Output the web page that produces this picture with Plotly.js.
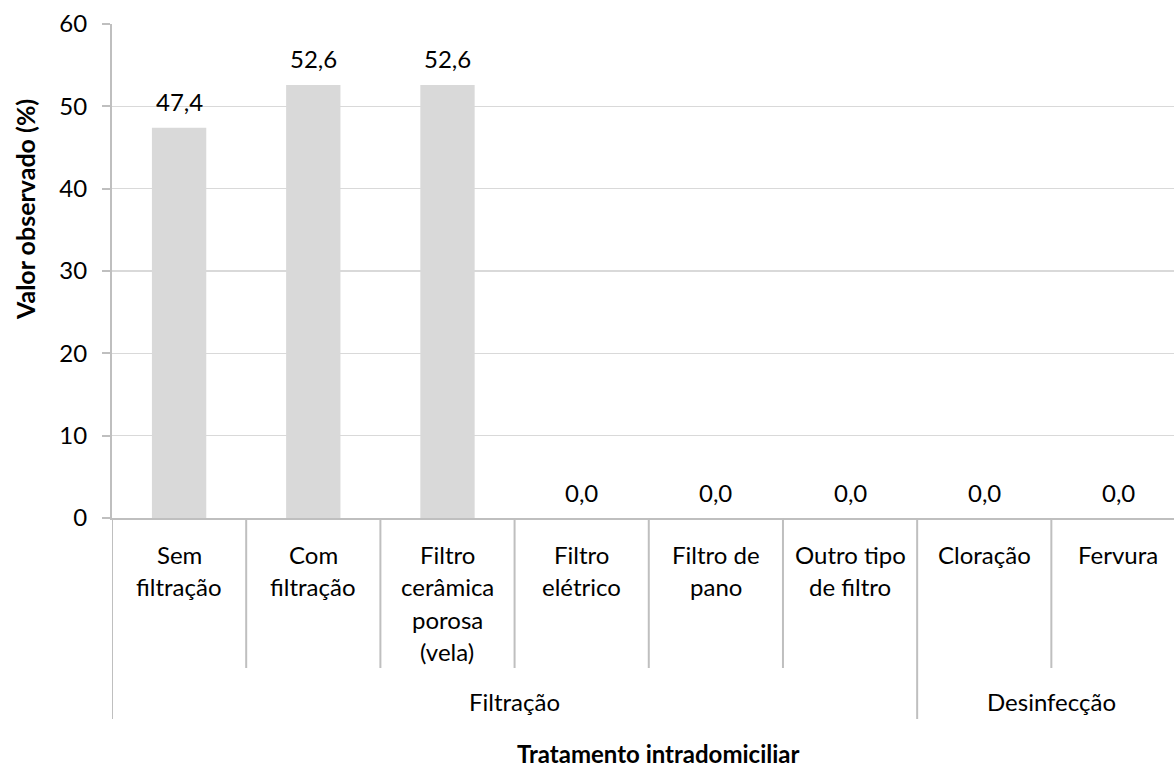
<!DOCTYPE html>
<html>
<head>
<meta charset="utf-8">
<script src="https://cdn.plot.ly/plotly-3.0.1.min.js"></script>
<style>html,body{margin:0;padding:0;background:#fff;overflow:hidden}#chart{width:1174px;height:769px}</style>
</head>
<body>
<div id="chart"></div>
<script>
// ---- data ----
const categories = ["Sem filtração","Com filtração","Filtro cerâmica porosa (vela)","Filtro elétrico","Filtro de pano","Outro tipo de filtro","Cloração","Fervura"];
const categoryLabels = ["Sem<br>filtração","Com<br>filtração","Filtro<br>cerâmica<br>porosa<br>(vela)","Filtro<br>elétrico","Filtro de<br>pano","Outro tipo<br>de filtro","Cloração","Fervura"];
const values = [47.4, 52.6, 52.6, 0.0, 0.0, 0.0, 0.0, 0.0];
const groupNames = ["Filtração","Desinfecção"];
const groupSizes = [6, 2];
const yTitle = "Valor observado (%)";
const xTitle = "Tratamento intradomiciliar";

// ---- styling ----
const FONT = "Lato, 'Open Sans', sans-serif";
const TXT = "#000000";
const GRID = "#d9d9d9";
const AXIS = "#bfbfbf";
const BAR = "#d9d9d9";
const FS = 24;
const TFS = 25;
const LINE = 32.5;
const ML = 112, PW = 1062, PT = 24, PH = 494;

const xs = categories.map((c, i) => i);

const annotations = [];
// value labels
values.forEach((v, i) => {
  annotations.push({
    x: i, y: v, xref: "x", yref: "y", text: v.toFixed(1).replace(".", ","),
    showarrow: false, yanchor: "middle", yshift: 26,
    font: {family: FONT, size: FS, color: TXT}
  });
});
// category labels (one annotation per line)
categoryLabels.forEach((lab, i) => {
  lab.split("<br>").forEach((ln, k) => {
    annotations.push({
      x: i, y: 0, xref: "x", yref: "paper", text: ln, showarrow: false,
      yanchor: "middle", yshift: -(36 + k * LINE),
      font: {family: FONT, size: FS, color: TXT}
    });
  });
});
// group labels
let start = 0;
const shapes = [];
groupNames.forEach((g, gi) => {
  const n = groupSizes[gi];
  annotations.push({
    x: start + (n - 1) / 2, y: 0, xref: "x", yref: "paper", text: g, showarrow: false,
    yanchor: "middle", yshift: -183,
    font: {family: FONT, size: FS, color: TXT}
  });
  start += n;
});
// axis titles
annotations.push({
  xref: "paper", yref: "paper", x: (658 - ML) / PW, y: 0, yshift: -235,
  xanchor: "center", yanchor: "middle", showarrow: false,
  text: "<b>" + xTitle + "</b>", font: {family: FONT, size: 24, color: TXT}
});
annotations.push({
  xref: "paper", yref: "paper", x: (25 - ML) / PW, y: (PT + PH - 210) / PH,
  xanchor: "center", yanchor: "middle", showarrow: false, textangle: -90,
  text: "<b>" + yTitle + "</b>", font: {family: FONT, size: TFS, color: TXT}
});
// dividers
let acc = 0;
const groupEdges = [-0.5];
groupSizes.forEach(n => { acc += n; groupEdges.push(acc - 0.5); });
for (let i = 0; i < categories.length + 1; i++) {
  const xv = i - 0.5;
  const isGroup = groupEdges.includes(xv);
  shapes.push({
    type: "line", xref: "x", yref: "paper", ysizemode: "pixel", yanchor: 0,
    x0: xv, x1: xv, y0: 0, y1: isGroup ? -201 : -150,
    line: {color: AXIS, width: 2}
  });
}

const trace = {
  type: "bar", x: xs, y: values,
  marker: {color: BAR, line: {width: 0}},
  hoverinfo: "skip"
};

const layout = {
  width: 1174, height: 769,
  margin: {l: ML, r: 1174 - ML - PW, t: PT, b: 769 - PT - PH},
  paper_bgcolor: "#ffffff", plot_bgcolor: "#ffffff",
  separators: ",.",
  bargap: 0.595,
  showlegend: false,
  font: {family: FONT, size: FS, color: TXT},
  xaxis: {
    type: "linear", range: [-0.5, 7.414], showgrid: false, zeroline: false,
    showticklabels: false, ticks: "", showline: true, linecolor: AXIS, linewidth: 2,
    fixedrange: true
  },
  yaxis: {
    range: [0, 60], dtick: 10, tick0: 0, showgrid: true, gridcolor: GRID, gridwidth: 1.5,
    zeroline: false, showline: true, linecolor: AXIS, linewidth: 2,
    ticks: "outside", ticklen: 8, tickcolor: AXIS, tickwidth: 2, ticklabelstandoff: 10,
    tickfont: {family: FONT, size: FS, color: TXT}, fixedrange: true
  },
  annotations: annotations,
  shapes: shapes
};

Plotly.newPlot("chart", [trace], layout, {displayModeBar: false, staticPlot: true});
</script>
</body>
</html>
